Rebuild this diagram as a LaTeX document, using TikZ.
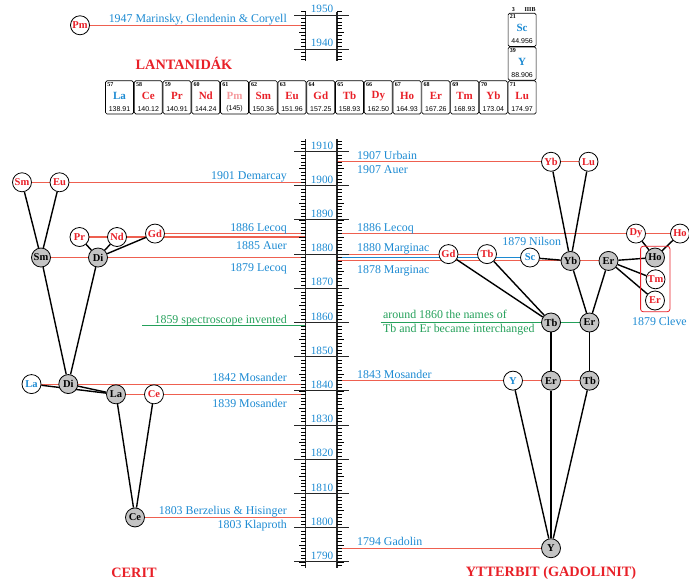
\documentclass[tikz,border=0pt]{standalone}
\usepackage{fontspec}
\setmainfont{Liberation Serif}
\setsansfont{Liberation Sans}
\usetikzlibrary{positioning,fit,backgrounds,calc}
\definecolor{elred}{RGB}{232,32,40}
\definecolor{elblue}{RGB}{28,138,210}
\definecolor{elline}{RGB}{238,96,80}
\definecolor{elgreen}{RGB}{36,160,90}
\definecolor{elgray}{RGB}{196,196,196}
\tikzset{
  myold/.style = {circle, draw, line width=0.8pt, fill=elgray, minimum size=19pt, inner sep=0pt, font=\bfseries\fontsize{10.5}{11}\selectfont},
  mynew/.style = {myold, fill=white, text=elred},
  myknown/.style = {myold, fill=white, text=elblue},
  myedge/.style = {line width=1.4pt},
  myred/.style = {elline, line width=1.1pt},
  myblue/.style = {elblue, line width=1.1pt},
  mygreen/.style = {elgreen, line width=1.1pt},
  mylab/.style = {text=elblue, font=\fontsize{11.9}{14}\selectfont, inner sep=0pt},
  myyear/.style = {text=elblue, font=\fontsize{11.2}{12}\selectfont, inner sep=0pt},
  mytitle/.style = {text=elred, font=\bfseries\fontsize{14.3}{16}\selectfont, inner sep=0pt},
  myaxis/.style = {line width=1.1pt, black!85},
  mymajor/.style = {line width=0.9pt, black!85},
  mytick/.style = {line width=0.45pt},
  mycell/.style = {rectangle, rounded corners=1.5pt, draw, line width=0.7pt, minimum width=28pt, minimum height=33.2pt, inner sep=0pt},
  mynum/.style = {anchor=north west, inner sep=0pt, font=\bfseries\fontsize{6}{6.5}\selectfont},
  mysym/.style = {inner sep=0pt, font=\bfseries\fontsize{11}{12}\selectfont},
  mymass/.style = {inner sep=0pt, font=\sffamily\fontsize{7}{8}\selectfont},
}

\begin{document}
\begin{tikzpicture}[x=1pt, y=-1pt, declare function={yr(\t)=185.7+(1900-\t)*3.42; yu(\t)=15+(1950-\t)*3.42;}]
\useasboundingbox (0,0) rectangle (689,582);
\coordinate (axL) at (305.5,0);
\coordinate (axR) at (337,0);

% time axis, upper part
\draw[myaxis] (305.5,{yu(1951)}) -- (305.5,{yu(1936.5)});
\draw[myaxis] (337,{yu(1951)}) -- (337,{yu(1936.5)});
\foreach \t in {1937,...,1951}{
  \pgfmathsetmacro{\len}{mod(\t,5)==0 ? 7 : 4.5}
  \draw[mytick] (305.5,{yu(\t)}) -- ++(-\len,0) (337,{yu(\t)}) -- ++(\len,0);
}
\foreach \t in {1940,1950}{
  \draw[mymajor] (294,{yu(\t)}) -- (349,{yu(\t)});
  \node[myyear] (year\t) at (322,{yu(\t)-6}) {\t};
}

% time axis, main part
\draw[myaxis] (305.5,139) -- (305.5,568);
\draw[myaxis] (337,139) -- (337,568);
\foreach \t in {1789,...,1913}{
  \pgfmathsetmacro{\len}{mod(\t,5)==0 ? 7 : 4.5}
  \draw[mytick] (305.5,{yr(\t)}) -- ++(-\len,0) (337,{yr(\t)}) -- ++(\len,0);
}
\foreach \t in {1790,1800,...,1910}{
  \draw[mymajor] (294,{yr(\t)}) -- (349,{yr(\t)});
  \node[myyear] (year\t) at (322,{yr(\t)-6}) {\t};
}

% lanthanide row
\node[mytitle] (lant) at (184,63.3) {LANTANIDÁK};
\foreach \s/\z/\m/\c [count=\i from 0] in {La/57/138.91/elblue, Ce/58/140.12/elred, Pr/59/140.91/elred, Nd/60/144.24/elred, Pm/61/{(145)}/elred!45, Sm/62/150.36/elred, Eu/63/151.96/elred, Gd/64/157.25/elred, Tb/65/158.93/elred, Dy/66/162.50/elred, Ho/67/164.93/elred, Er/68/167.26/elred, Tm/69/168.93/elred, Yb/70/173.04/elred, Lu/71/174.97/elred}{
  \node[mycell] (cell\z) at ({119.5+\i*28.76},97.4) {};
  \node[mynum] (num\z) at ([xshift=2pt,yshift=-1.5pt]cell\z.north west) {\z};
  \node[mysym, text=\c] (sym\z) at ([yshift=1.6pt]cell\z.center) {\s};
  \node[mymass] (mass\z) at ([yshift=-11.5pt]cell\z.center) {\m};
}
\foreach \s/\z/\m/\yc in {Sc/21/44.956/29.8, Y/39/88.906/63.6}{
  \node[mycell] (cell\z) at (522.1,\yc) {};
  \node[mynum] (num\z) at ([xshift=2pt,yshift=-1.5pt]cell\z.north west) {\z};
  \node[mysym, text=elblue] (sym\z) at ([yshift=1.6pt]cell\z.center) {\s};
  \node[mymass] (mass\z) at ([yshift=-11.5pt]cell\z.center) {\m};
}
\node[mynum, anchor=center] (grp) at (513.3,9.3) {3};
\node[mynum, anchor=center] (grpname) at (530,9.3) {IIIB};

% cerit tree
\node[mynew] (pm) at (80,{yu(1947)}) {Pm};
\node[mynew] (smR) at (22,{yr(1901)}) {Sm};
\node[mynew] (eu) at (59.5,{yr(1901)}) {Eu};
\node[mynew] (pr) at (79.5,{yr(1885)}) {Pr};
\node[mynew] (nd) at (117,{yr(1885)}) {Nd};
\node[mynew] (gdL) at (155,{yr(1886)}) {Gd};
\node[myold] (smG) at (41,{yr(1879)}) {Sm};
\node[myold] (diU) at (98,{yr(1879)}) {Di};
\node[myknown] (laB) at (31.5,{yr(1842)}) {La};
\node[myold] (diL) at (68.3,{yr(1842)}) {Di};
\node[myold] (laG) at (116,{yr(1839)}) {La};
\node[mynew] (ceR) at (154,{yr(1839)}) {Ce};
\node[myold] (ceG) at (135,{yr(1803)}) {Ce};
\node[mytitle] (cerit) at (134,572.7) {CERIT};

% ytterbit tree
\node[mynew] (ybR) at (551,{yr(1907)}) {Yb};
\node[mynew] (lu) at (588.5,{yr(1907)}) {Lu};
\node[mynew] (gdR) at (448.5,{yr(1880)}) {Gd};
\node[mynew] (tbR) at (487,{yr(1880)}) {Tb};
\node[myknown] (sc) at (530,{yr(1879)}) {Sc};
\node[myold] (ybG) at (570.5,{yr(1878)}) {Yb};
\node[myold] (erG) at (608.5,{yr(1878)}) {Er};
\node[mynew] (dy) at (636,{yr(1886)}) {Dy};
\node[mynew] (hoR) at (680,{yr(1886)}) {Ho};
\node[myold] (hoG) at (655,{yr(1879)}) {Ho};
\node[mynew] (tm) at (655.5,279.3) {Tm};
\node[mynew] (erR) at (655,300.5) {Er};
\node[draw=elred, rounded corners=2.5pt, line width=0.8pt, inner xsep=4.5pt, inner ysep=1.3pt, fit=(hoG)(tm)(erR)] (cleve) {};
\node[myold] (tbU) at (551,{yr(1860)}) {Tb};
\node[myold] (erU) at (589.5,{yr(1860)}) {Er};
\node[myknown] (yB) at (513,{yr(1843)}) {Y};
\node[myold] (erL) at (551,{yr(1843)}) {Er};
\node[myold] (tbL) at (589.5,{yr(1843)}) {Tb};
\node[myold] (yG) at (551,{yr(1794)}) {Y};
\node[mytitle] (ytter) at (551,573.3) {YTTERBIT (GADOLINIT)};

\coordinate (spec) at (142,{yr(1859)});
\coordinate (names) at (380.5,{yr(1860)});

% discoveries, left of the axis
\node[mylab, anchor=base east] (lPm) at (287,{yu(1947)-2.5}) {1947 Marinsky, Glendenin \& Coryell};
\node[mylab, anchor=base east] (lDem) at (287,{yr(1901)-2.5}) {1901 Demarcay};
\node[mylab, anchor=base east] (lLec1) at (287,{yr(1886)-2.5}) {1886 Lecoq};
\node[mylab, anchor=base east] (lAuer) at (287,{yr(1885)+12.5}) {1885 Auer};
\node[mylab, anchor=base east] (lLec2) at (287,{yr(1879)+13.5}) {1879 Lecoq};
\node[mylab, anchor=base east, text=elgreen] (lSpec) at (287,{yr(1859)-2.5}) {1859 spectroscope invented};
\node[mylab, anchor=base east] (lMos1) at (287,{yr(1842)-2.5}) {1842 Mosander};
\node[mylab, anchor=base east] (lMos2) at (287,{yr(1839)+13.5}) {1839 Mosander};
\node[mylab, anchor=base east] (lBer) at (287,{yr(1803)-2.5}) {1803 Berzelius \& Hisinger};
\node[mylab, anchor=base east] (lKla) at (287,{yr(1803)+11.5}) {1803 Klaproth};

% discoveries, right of the axis
\node[mylab, anchor=base west] (lUrb) at (357,{yr(1907)-2.5}) {1907 Urbain};
\node[mylab, anchor=base west] (lAuer2) at (357,{yr(1907)+12}) {1907 Auer};
\node[mylab, anchor=base west] (lLec3) at (357,{yr(1886)-2.5}) {1886 Lecoq};
\node[mylab, anchor=base west] (lMar1) at (357,{yr(1880)-2.5}) {1880 Marginac};
\node[mylab, anchor=base west] (lMar2) at (357,{yr(1878)+12.5}) {1878 Marginac};
\node[mylab] (lNil) at (531.7,241.5) {1879 Nilson};
\node[mylab, anchor=west] (lCle) at (632,321.7) {1879 Cleve};
\node[mylab, anchor=west, align=left, text=elgreen] (lNames) at (383,{yr(1860)}) {around 1860 the names of\\Tb and Er became interchanged};
\node[mylab, anchor=base west] (lMos3) at (357,{yr(1843)-2.5}) {1843 Mosander};
\node[mylab, anchor=base west] (lGad) at (357,{yr(1794)-2.5}) {1794 Gadolin};

\begin{scope}[on background layer]
% year lines
\draw[myred] (pm) -- (pm -| axL);
\draw[myred] (smR) -- (smR -| axL);
\draw[myred] (gdL) -- (gdL -| axL);
\draw[myred] (pr) -- (pr -| axL);
\draw[myred] (smG) -- (smG -| axL);
\draw[mygreen] (spec) -- (spec -| axL);
\draw[myred] (laB) -- (laB -| axL);
\draw[myred] (laG) -- (laG -| axL);
\draw[myred] (ceG) -- (ceG -| axL);
\draw[myred] (ybR -| axR) -- (lu);
\draw[myred] (dy -| axR) -- (hoR);
\draw[myred] (gdR -| axR) -- (tbR);
\draw[myblue] (sc -| axR) -- (sc);
\draw[myred] (ybG -| axR) -- (erG);
\draw[mygreen] (names) -- (erU);
\draw[myred] (yB -| axR) -- (tbL);
\draw[myred] (yG -| axR) -- (yG);
% splittings
\draw[myedge] (smG) -- (smR);
\draw[myedge] (smG) -- (eu);
\draw[myedge] (diU) -- (pr);
\draw[myedge] (diU) -- (nd);
\draw[myedge] (diU) -- (gdL);
\draw[myedge] (diL) -- (smG);
\draw[myedge] (diL) -- (diU);
\draw[myedge] (laG) -- (laB);
\draw[myedge] (laG) -- (diL);
\draw[myedge] (ceG) -- (laG);
\draw[myedge] (ceG) -- (ceR);
\draw[myedge] (yG) -- (yB);
\draw[myedge] (yG) -- (erL);
\draw[myedge] (yG) -- (tbL);
\draw[myedge] (erL) -- (tbU);
\draw[myedge] (tbL) -- (erU);
\draw[myedge] (tbU) -- (gdR);
\draw[myedge] (tbU) -- (tbR);
\draw[myedge] (erU) -- (ybG);
\draw[myedge] (erU) -- (erG);
\draw[myedge] (ybG) -- (ybR);
\draw[myedge] (ybG) -- (lu);
\draw[myedge] (ybG) -- (sc);
\draw[myedge] (erG) -- (hoG);
\draw[myedge] (erG) -- (tm);
\draw[myedge] (erG) -- (erR);
\draw[myedge] (hoG) -- (dy);
\draw[myedge] (hoG) -- (hoR);
\end{scope}
\end{tikzpicture}
\end{document}
